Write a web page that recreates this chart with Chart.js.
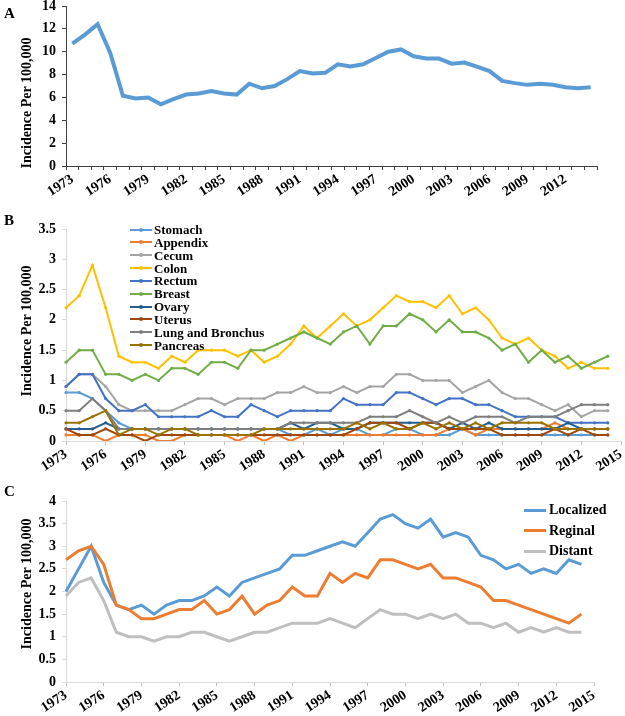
<!DOCTYPE html>
<html><head><meta charset="utf-8">
<script src="https://cdn.jsdelivr.net/npm/chart.js@4.4.1/dist/chart.umd.min.js"></script>
<style>
html,body{margin:0;padding:0;background:#fff;}
#wrap{position:relative;width:625px;height:716px;overflow:hidden;font-family:"Liberation Serif","Times New Roman",serif;font-weight:bold;color:#000;}
canvas{position:absolute;left:0;top:0;}
.plbl{position:absolute;font-size:15px;line-height:15px;}
.ytitle{position:absolute;font-size:14px;line-height:14px;white-space:nowrap;transform:translate(-50%,-50%) rotate(-90deg);}
.leg{position:absolute;white-space:nowrap;height:13px;}
.leg .ln{position:absolute;left:0;}
.leg .dot{position:absolute;border-radius:50%;}
.leg .tx{position:absolute;top:0;}
</style>
</head><body>
<div id="wrap">
<canvas id="cA" width="625" height="716"></canvas>
<canvas id="cB" width="625" height="716"></canvas>
<canvas id="cC" width="625" height="716"></canvas>
<div class="plbl" style="left:4px;top:6px;">A</div>
<div class="plbl" style="left:4px;top:213px;">B</div>
<div class="plbl" style="left:4px;top:484px;">C</div>
<div class="ytitle" style="left:27px;top:103px;">Incidence Per 100,000</div>
<div class="ytitle" style="left:27px;top:331px;">Incidence Per 100,000</div>
<div class="ytitle" style="left:27px;top:584px;">Incidence Per 100,000</div>
<div id="legB"></div>
<div id="legC"></div>
</div>
<script>
// ---------- data ----------
const yearsA = ['1973','1974','1975','1976','1977','1978','1979','1980','1981','1982','1983','1984','1985','1986','1987','1988','1989','1990','1991','1992','1993','1994','1995','1996','1997','1998','1999','2000','2001','2002','2003','2004','2005','2006','2007','2008','2009','2010','2011','2012','2013','2014'];
const yearsBC = ['1973','1974','1975','1976','1977','1978','1979','1980','1981','1982','1983','1984','1985','1986','1987','1988','1989','1990','1991','1992','1993','1994','1995','1996','1997','1998','1999','2000','2001','2002','2003','2004','2005','2006','2007','2008','2009','2010','2011','2012','2013','2014','2015'];

const overallA = [10.7,11.5,12.4,9.9,6.15,5.9,6.0,5.4,5.85,6.25,6.35,6.55,6.35,6.25,7.2,6.8,7.0,7.6,8.3,8.1,8.15,8.9,8.7,8.9,9.45,10.0,10.2,9.6,9.4,9.4,8.95,9.05,8.7,8.3,7.45,7.25,7.1,7.2,7.1,6.9,6.8,6.9];

const stomach  = [0.8,0.8,0.7,0.5,0.3,0.2,0.2,0.2,0.2,0.2, 0.2,0.2,0.2,0.2,0.2,0.2,0.2,0.1,0.1,0.2, 0.1,0.2,0.2,0.1,0.1,0.2,0.2,0.1,0.1,0.1, 0.2,0.1,0.1,0.1,0.1,0.1,0.1,0.1,0.1,0.1, 0.1,0.1];
const appendix = [0.1,0.1,0.1,0.0,0.1,0.1,0.1,0.0,0.0,0.1, 0.1,0.1,0.1,0.0,0.1,0.0,0.1,0.0,0.1,0.1, 0.1,0.1,0.1,0.1,0.1,0.1,0.1,0.1,0.1,0.2, 0.2,0.1,0.2,0.2,0.2,0.2,0.2,0.3,0.2,0.2, 0.2,0.2];
const cecum    = [0.9,1.1,1.1,0.9,0.6,0.5,0.5,0.5,0.5,0.6, 0.7,0.7,0.6,0.7,0.7,0.7,0.8,0.8,0.9,0.8, 0.8,0.9,0.8,0.9,0.9,1.1,1.1,1.0,1.0,1.0, 0.8,0.9,1.0,0.8,0.7,0.7,0.6,0.5,0.6,0.4, 0.5,0.5];
const colon    = [2.2,2.4,2.9,2.2,1.4,1.3,1.3,1.2,1.4,1.3, 1.5,1.5,1.5,1.4,1.5,1.3,1.4,1.6,1.9,1.7, 1.9,2.1,1.9,2.0,2.2,2.4,2.3,2.3,2.2,2.4, 2.1,2.2,2.0,1.7,1.6,1.7,1.5,1.4,1.2,1.3, 1.2,1.2];
const rectum   = [0.9,1.1,1.1,0.7,0.5,0.5,0.6,0.4,0.4,0.4, 0.4,0.5,0.4,0.4,0.6,0.5,0.4,0.5,0.5,0.5, 0.5,0.7,0.6,0.6,0.6,0.8,0.8,0.7,0.6,0.7, 0.7,0.6,0.6,0.5,0.4,0.4,0.4,0.4,0.3,0.3, 0.3,0.3];
const breast   = [1.3,1.5,1.5,1.1,1.1,1.0,1.1,1.0,1.2,1.2, 1.1,1.3,1.3,1.2,1.5,1.5,1.6,1.7,1.8,1.7, 1.6,1.8,1.9,1.6,1.9,1.9,2.1,2.0,1.8,2.0, 1.8,1.8,1.7,1.5,1.6,1.3,1.5,1.3,1.4,1.2, 1.3,1.4];
const ovary    = [0.2,0.2,0.2,0.3,0.2,0.2,0.2,0.2,0.2,0.2, 0.2,0.2,0.2,0.2,0.2,0.2,0.2,0.3,0.2,0.3, 0.3,0.2,0.2,0.3,0.3,0.3,0.3,0.3,0.3,0.2, 0.3,0.2,0.3,0.2,0.2,0.2,0.2,0.2,0.3,0.2, 0.2,0.2];
const uterus   = [0.2,0.1,0.1,0.2,0.1,0.1,0.0,0.1,0.1,0.1, 0.1,0.1,0.1,0.1,0.1,0.1,0.1,0.1,0.1,0.1, 0.1,0.1,0.2,0.3,0.3,0.3,0.2,0.3,0.3,0.2, 0.2,0.2,0.2,0.1,0.1,0.1,0.1,0.2,0.1,0.2, 0.1,0.1];
const lung     = [0.5,0.5,0.7,0.5,0.2,0.2,0.2,0.2,0.2,0.2, 0.2,0.2,0.2,0.2,0.2,0.2,0.2,0.3,0.3,0.3, 0.3,0.3,0.3,0.4,0.4,0.4,0.5,0.4,0.3,0.4, 0.3,0.4,0.4,0.4,0.3,0.4,0.4,0.4,0.5,0.6, 0.6,0.6];
const pancreas = [0.3,0.3,0.4,0.5,0.1,0.2,0.2,0.1,0.2,0.2, 0.1,0.1,0.1,0.1,0.1,0.2,0.2,0.2,0.2,0.2, 0.2,0.2,0.3,0.2,0.3,0.2,0.2,0.3,0.2,0.3, 0.2,0.3,0.2,0.3,0.3,0.3,0.3,0.2,0.2,0.2, 0.2,0.2];

const localized = [2.0,2.5,3.0,2.2,1.7,1.6,1.7,1.5,1.7,1.8, 1.8,1.9,2.1,1.9,2.2,2.3,2.4,2.5,2.8,2.8, 2.9,3.0,3.1,3.0,3.3,3.6,3.7,3.5,3.4,3.6, 3.2,3.3,3.2,2.8,2.7,2.5,2.6,2.4,2.5,2.4, 2.7,2.6];
const reginal   = [2.7,2.9,3.0,2.6,1.7,1.6,1.4,1.4,1.5,1.6, 1.6,1.8,1.5,1.6,1.9,1.5,1.7,1.8,2.1,1.9, 1.9,2.4,2.2,2.4,2.3,2.7,2.7,2.6,2.5,2.6, 2.3,2.3,2.2,2.1,1.8,1.8,1.7,1.6,1.5,1.4, 1.3,1.5];
const distant   = [1.9,2.2,2.3,1.8,1.1,1.0,1.0,0.9,1.0,1.0, 1.1,1.1,1.0,0.9,1.0,1.1,1.1,1.2,1.3,1.3, 1.3,1.4,1.3,1.2,1.4,1.6,1.5,1.5,1.4,1.5, 1.4,1.5,1.3,1.3,1.2,1.3,1.1,1.2,1.1,1.2, 1.1,1.1];

const namesB  = ['Stomach','Appendix','Cecum','Colon','Rectum','Breast','Ovary','Uterus','Lung and Bronchus','Pancreas'];
const valuesB = [stomach,appendix,cecum,colon,rectum,breast,ovary,uterus,lung,pancreas];
const colorsB = ['#5B9BD5','#ED7D31','#A5A5A5','#FFC000','#4472C4','#70AD47','#255E91','#9E480E','#7F7F7F','#997300'];
const namesC  = ['Localized','Reginal','Distant'];
const valuesC = [localized,reginal,distant];
const colorsC = ['#5B9BD5','#ED7D31','#BFBFBF'];

// ---------- helpers ----------
const FONT = {family:"'Liberation Serif','Times New Roman',serif", weight:'bold', size:14};
function fitY(w){ return s => { s.width = w; s.paddingTop = 0; s.paddingBottom = 0; }; }
function fitX(h){ return s => { s.height = h; s.paddingLeft = 0; s.paddingRight = 0; }; }
const every3 = labels => (v, i) => (i % 3 === 0 ? labels[i] : '');
const plainNum = v => String(Math.round(v * 10) / 10);
const ROT = 33;
const base = {responsive:false, animation:false, devicePixelRatio:1,
  plugins:{legend:{display:false}, tooltip:{enabled:false}}, events:[]};

// ---------- Panel A ----------
new Chart(document.getElementById('cA'), {
  type:'line',
  data:{labels:yearsA, datasets:[{data:overallA, borderColor:'#5B9BD5', borderWidth:4, pointRadius:0, tension:0}]},
  options:Object.assign({}, base, {
    layout:{padding:{left:0, top:6, right:28, bottom:510}},
    scales:{
      x:{type:'category', offset:true,
         grid:{offset:true, drawOnChartArea:false, tickLength:4, color:'#404040'},
         border:{color:'#404040', width:1},
         ticks:{autoSkip:false, minRotation:ROT, maxRotation:ROT, padding:1, color:'#000', font:FONT, callback:every3(yearsA)},
         afterFit:fitX(40)},
      y:{min:0, max:14,
         grid:{drawOnChartArea:false, tickLength:4, color:'#404040'},
         border:{color:'#404040', width:1},
         ticks:{stepSize:2, padding:6, color:'#000', font:FONT, callback:plainNum},
         afterFit:fitY(66)}
    }
  })
});

// ---------- Panel B ----------
const n = namesB.length;
new Chart(document.getElementById('cB'), {
  type:'line',
  data:{labels:yearsBC, datasets:valuesB.map((v,i)=>({label:namesB[i], data:v, borderColor:colorsB[i], backgroundColor:colorsB[i],
        borderWidth:2, pointRadius:1.6, pointBorderWidth:0, tension:0, order:n-1-i}))},
  options:Object.assign({}, base, {
    layout:{padding:{left:0, top:229, right:4, bottom:235}},
    scales:{
      x:{type:'category', offset:false,
         grid:{drawOnChartArea:false, tickLength:4, tickColor:c=>(c.index%3===0?'#BFBFBF':'rgba(0,0,0,0)'), color:'#D9D9D9'},
         border:{color:'#D9D9D9', width:1},
         ticks:{autoSkip:false, minRotation:ROT, maxRotation:ROT, padding:1, color:'#000', font:FONT, callback:every3(yearsBC)},
         afterFit:fitX(40)},
      y:{min:0, max:3.5,
         grid:{drawOnChartArea:false, tickLength:4, color:'#D9D9D9'},
         border:{color:'#D9D9D9', width:1},
         ticks:{stepSize:0.5, padding:6, color:'#000', font:FONT, callback:plainNum},
         afterFit:fitY(66)}
    }
  })
});

// ---------- Panel C ----------
const m = namesC.length;
new Chart(document.getElementById('cC'), {
  type:'line',
  data:{labels:yearsBC, datasets:valuesC.map((v,i)=>({label:namesC[i], data:v, borderColor:colorsC[i], borderWidth:3, pointRadius:0, tension:0, order:m-1-i}))},
  options:Object.assign({}, base, {
    layout:{padding:{left:0, top:501, right:31, bottom:4}},
    scales:{
      x:{type:'category', offset:false,
         grid:{drawOnChartArea:false, tickLength:4, tickColor:c=>(c.index%3===0?'#BFBFBF':'rgba(0,0,0,0)'), color:'#D9D9D9'},
         border:{color:'#D9D9D9', width:1},
         ticks:{autoSkip:false, minRotation:ROT, maxRotation:ROT, padding:1, color:'#000', font:FONT, callback:every3(yearsBC)},
         afterFit:fitX(30)},
      y:{min:0, max:4,
         grid:{drawOnChartArea:false, tickLength:4, color:'#D9D9D9'},
         border:{color:'#D9D9D9', width:1},
         ticks:{stepSize:0.5, padding:6, color:'#000', font:FONT, callback:plainNum},
         afterFit:fitY(66)}
    }
  })
});

// ---------- HTML legends ----------
const legB = document.getElementById('legB');
namesB.forEach((name,i)=>{
  const cy = 229.5 + 12.85*i;
  const d = document.createElement('div');
  d.className='leg';
  d.style.left='130px'; d.style.top=(cy-6.5)+'px'; d.style.fontSize='13px'; d.style.lineHeight='13px';
  d.innerHTML = '<span class="ln" style="top:5.5px;width:22px;height:2px;background:'+colorsB[i]+'"></span>'+
                '<span class="dot" style="left:9px;top:4.5px;width:4px;height:4px;background:'+colorsB[i]+'"></span>'+
                '<span class="tx" style="left:24px;"></span>';
  d.querySelector('.tx').textContent = name;
  legB.appendChild(d);
});
const legC = document.getElementById('legC');
namesC.forEach((name,i)=>{
  const cy = 510 + 20.5*i;
  const d = document.createElement('div');
  d.className='leg';
  d.style.left='524px'; d.style.top=(cy-8)+'px'; d.style.height='16px'; d.style.fontSize='14px'; d.style.lineHeight='16px';
  d.innerHTML = '<span class="ln" style="top:6.5px;width:22px;height:3px;background:'+colorsC[i]+'"></span>'+
                '<span class="tx" style="left:25px;"></span>';
  d.querySelector('.tx').textContent = name;
  legC.appendChild(d);
});
</script>
</body></html>
